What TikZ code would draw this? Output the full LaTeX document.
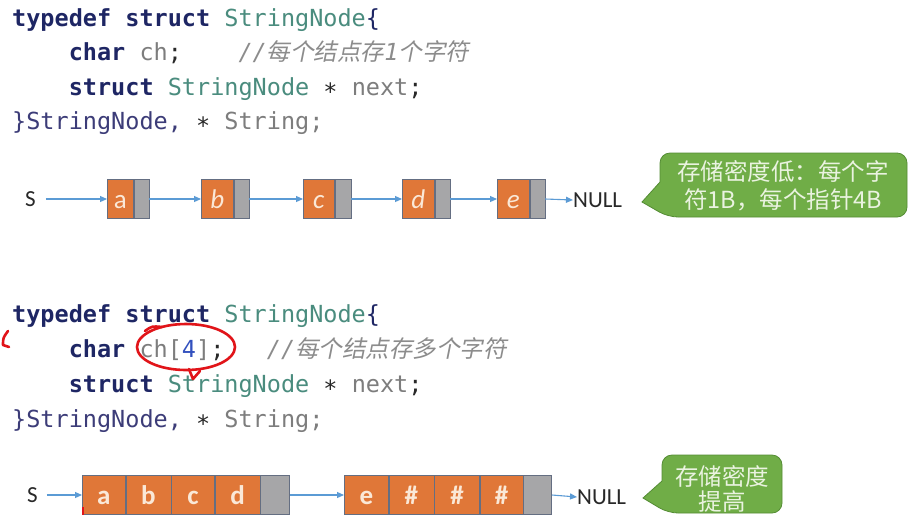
\documentclass[tikz,border=0pt]{standalone}
\usepackage{fontspec}
\setmainfont{Carlito}
\setmonofont{DejaVu Sans Mono}
\newfontfamily\cjk{Noto Sans CJK SC}
\newfontfamily\cjkit{Noto Sans CJK SC}[FakeSlant=0.2]
\usetikzlibrary{arrows.meta}
\definecolor{kw}{RGB}{30,38,100}
\definecolor{ty}{RGB}{74,140,126}
\definecolor{idc}{RGB}{125,125,125}
\definecolor{cm}{RGB}{140,140,140}
\definecolor{dk}{RGB}{40,40,40}
\definecolor{sn}{RGB}{60,60,120}
\definecolor{num}{RGB}{50,80,190}
\definecolor{org}{RGB}{224,119,56}
\definecolor{gry}{RGB}{166,166,168}
\definecolor{cellb}{RGB}{100,110,130}
\definecolor{arr}{RGB}{91,155,213}
\definecolor{grn}{RGB}{112,173,71}
\definecolor{grnd}{RGB}{84,140,52}
\definecolor{ctx}{RGB}{234,243,224}
\definecolor{ltr}{RGB}{250,232,215}
\definecolor{ann}{RGB}{225,20,25}
\newcommand\kwd[1]{\textbf{\textcolor{kw}{#1}}}
\tikzset{
  code/.style={anchor=base west, inner sep=0pt, font=\ttfamily\fontsize{23.5}{28}\selectfont\frenchspacing},
  ocell/.style={draw=cellb, line width=0.6pt, fill=org, minimum height=39pt, inner sep=0pt, anchor=west, text=ltr, text height=19pt, text depth=0pt, font=\fontsize{27}{29}\selectfont},
  bcell/.style={ocell, font=\bfseries\fontsize{27}{29}\selectfont},
  gcell/.style={draw=cellb, line width=0.6pt, fill=gry, minimum height=39pt, inner sep=0pt, anchor=west},
  conn/.style={draw=arr, line width=1.1pt, -{Triangle[length=7pt,width=6pt]}},
  lab/.style={inner sep=0pt, text=dk, font=\fontsize{23}{25}\selectfont},
  callout/.style={fill=grn, draw=grnd, line width=0.8pt},
  calltext/.style={inner sep=0pt, align=center, text=ctx},
  annot/.style={draw=ann, line width=2.6pt, line cap=round, line join=round}
}
\begin{document}
\begin{tikzpicture}[x=1pt,y=-1pt]
\useasboundingbox (0,0) rectangle (909,515);
\fill[white] (0,0) rectangle (909,515);

% ---- code block 1
\node[code] (c11) at (12,26) {\kwd{typedef}~\kwd{struct}~\textcolor{ty}{StringNode}\textcolor{kw}{\{}};
\node[code] (c12) at (12,60) {~~~~\kwd{char}~\textcolor{idc}{ch}\textcolor{dk}{;}~~~~\textcolor{cm}{\textit{//}{\cjkit 每个结点存}\textit{1}{\cjkit 个字符}}};
\node[code] (c13) at (12,95) {~~~~\kwd{struct}~\textcolor{ty}{StringNode}~\textcolor{dk}{∗}~\textcolor{idc}{next}\textcolor{dk}{;}};
\node[code] (c14) at (12,129) {\textcolor{sn}{\}StringNode,}~\textcolor{dk}{∗}~\textcolor{idc}{String;}};

% ---- list 1
\node[lab, anchor=west] (S1) at (25,199) {S};
\node[ocell, minimum width=26pt] (a1) at (107,199) {a};
\node[gcell, minimum width=15pt] (a1g) at (a1.east) {};
\node[ocell, minimum width=32pt] (b1) at (201,199) {\itshape b};
\node[gcell, minimum width=15pt] (b1g) at (b1.east) {};
\node[ocell, minimum width=31pt] (c1) at (303,199) {\itshape c};
\node[gcell, minimum width=16pt] (c1g) at (c1.east) {};
\node[ocell, minimum width=32pt] (d1) at (402,199) {\itshape d};
\node[gcell, minimum width=15pt] (d1g) at (d1.east) {};
\node[ocell, minimum width=32pt] (e1) at (497,199) {\itshape e};
\node[gcell, minimum width=15pt] (e1g) at (e1.east) {};
\node[lab, anchor=west] (N1) at (573,200) {NULL};
\draw[conn] ([xshift=10pt]S1.east) -- (a1.west);
\draw[conn] (a1g.east) -- (b1.west);
\draw[conn] (b1g.east) -- (c1.west);
\draw[conn] (c1g.east) -- (d1.west);
\draw[conn] (d1g.east) -- (e1.west);
\draw[conn] (e1g.east) -- (N1.west);

% ---- callout 1
\path[callout] (642,202) -- (660,182) [rounded corners=10pt] -- (660,153) -- (907,153) -- (907,217) -- (668,217) [sharp corners] -- cycle;
\node[calltext, font=\cjk\fontsize{23.5}{28}\selectfont] (t1) at (783,186) {存储密度低：每个字\\符1B，每个指针4B};

% ---- code block 2
\node[code] (c21) at (12,322) {\kwd{typedef}~\kwd{struct}~\textcolor{ty}{StringNode}\textcolor{kw}{\{}};
\node[code] (c22) at (12,357) {~~~~\kwd{char}~\textcolor{idc}{ch[}\textcolor{num}{4}\textcolor{idc}{]}\textcolor{dk}{;}~~~\textcolor{cm}{\textit{//}{\cjkit 每个结点存多个字符}}};
\node[code] (c23) at (12,392) {~~~~\kwd{struct}~\textcolor{ty}{StringNode}~\textcolor{dk}{∗}~\textcolor{idc}{next}\textcolor{dk}{;}};
\node[code] (c24) at (12,427) {\textcolor{sn}{\}StringNode,}~\textcolor{dk}{∗}~\textcolor{idc}{String;}};

% ---- list 2
\node[lab, anchor=west] (S2) at (27,495) {S};
\node[bcell, minimum width=43pt] (a2) at (82,495) {a};
\node[bcell, minimum width=45pt] (b2) at (a2.east) {b};
\node[bcell, minimum width=43pt] (c2) at (b2.east) {c};
\node[bcell, minimum width=45pt] (d2) at (c2.east) {d};
\node[gcell, minimum width=29pt] (g2) at (d2.east) {};
\node[bcell, minimum width=44pt] (e2) at (344,495) {e};
\node[bcell, minimum width=45pt] (h1) at (e2.east) {\#};
\node[bcell, minimum width=45pt] (h2) at (h1.east) {\#};
\node[bcell, minimum width=43pt] (h3) at (h2.east) {\#};
\node[gcell, minimum width=28pt] (g3) at (h3.east) {};
\node[lab, anchor=west] (N2) at (577,497) {NULL};
\draw[conn] ([xshift=9pt]S2.east) -- (a2.west);
\draw[conn] (g2.east) -- (e2.west);
\draw[conn] (g3.east) -- (N2.west);

% ---- callout 2
\path[callout] (643,498) -- (662,481) [rounded corners=10pt] -- (662,455) -- (782,455) -- (782,513) -- (668,513) [sharp corners] -- cycle;
\node[calltext, font=\cjk\fontsize{23.5}{25}\selectfont] (t2) at (722,489) {存储密度\\提高};

% ---- hand-drawn red marks
\draw[annot] (186,347) ellipse [x radius=49pt, y radius=23pt];
\draw[annot] (145,331) .. controls (152,326) .. (162,327);
\draw[annot] (189,369) -- (193,379) -- (200,371);
\draw[annot] (8,331) .. controls (3,338) .. (3,345) -- (9,347);
\draw[draw=ann, line width=1.5pt] (83,507) -- (83,515);
\end{tikzpicture}
\end{document}
